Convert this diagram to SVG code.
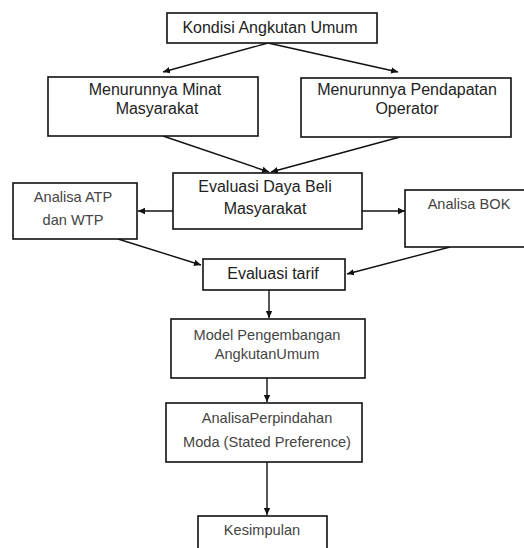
<svg xmlns="http://www.w3.org/2000/svg" width="524" height="548" viewBox="0 0 524 548">
<style>
.box{fill:#fff;stroke:#111;stroke-width:1.6}
.a{font-family:"Liberation Sans",Arial,sans-serif;font-size:16px;fill:#222;text-anchor:middle}
.c{font-family:"Liberation Sans",Arial,sans-serif;font-size:14.6px;fill:#444;text-anchor:middle}
.ln{fill:none;stroke:#111;stroke-width:1.4;marker-end:url(#ah)}
</style>
<defs>
<marker id="ah" markerUnits="userSpaceOnUse" markerWidth="8" markerHeight="8" refX="7" refY="4" orient="auto">
<path d="M0,0.8 L7,4 L0,7.2 z" fill="#111"/>
</marker>
</defs>
<rect width="524" height="548" fill="#fff"/>
<g id="connectors">
<line class="ln" x1="268" y1="43" x2="163" y2="72"/>
<line class="ln" x1="268" y1="43" x2="398" y2="72"/>
<line class="ln" x1="163" y1="136" x2="269" y2="172"/>
<line class="ln" x1="400" y1="137" x2="271" y2="172"/>
<line class="ln" x1="173" y1="211" x2="138" y2="211"/>
<line class="ln" x1="362" y1="211" x2="405" y2="211"/>
<line class="ln" x1="118" y1="239" x2="201" y2="265"/>
<line class="ln" x1="450" y1="247" x2="347" y2="274"/>
<line class="ln" x1="269" y1="290" x2="269" y2="318"/>
<line class="ln" x1="267" y1="378" x2="267" y2="402"/>
<line class="ln" x1="267" y1="462" x2="267" y2="515"/>
</g>
<g id="n1"><rect class="box" x="167" y="13" width="210" height="30"/><text class="a" x="270" y="33">Kondisi Angkutan Umum</text></g>
<g id="n2"><rect class="box" x="48" y="77" width="210" height="59"/><text class="a" x="155" y="95">Menurunnya Minat</text><text class="a" x="157" y="114">Masyarakat</text></g>
<g id="n3"><rect class="box" x="301" y="78" width="210" height="59"/><text class="a" x="407" y="95">Menurunnya Pendapatan</text><text class="a" x="407" y="114">Operator</text></g>
<g id="n4"><rect class="box" x="173" y="173" width="189" height="56"/><text class="a" x="265" y="192">Evaluasi Daya Beli</text><text class="a" x="265" y="214">Masyarakat</text></g>
<g id="n5"><rect class="box" x="13" y="183" width="124" height="56"/><text class="c" x="73" y="202">Analisa ATP</text><text class="c" x="73" y="225">dan WTP</text></g>
<g id="n6"><rect class="box" x="405" y="190" width="125" height="57"/><text class="c" x="469" y="209">Analisa BOK</text></g>
<g id="n7"><rect class="box" x="203" y="259" width="142" height="31"/><text class="a" x="273" y="279">Evaluasi tarif</text></g>
<g id="n8"><rect class="box" x="171" y="319" width="194" height="59"/><text class="c" x="267" y="340">Model Pengembangan</text><text class="c" x="267" y="359">AngkutanUmum</text></g>
<g id="n9"><rect class="box" x="166" y="403" width="196" height="59"/><text class="c" x="267" y="423">AnalisaPerpindahan</text><text class="c" x="267" y="447">Moda (Stated Preference)</text></g>
<g id="n10"><rect class="box" x="198" y="516" width="129" height="40"/><text class="c" x="262" y="535">Kesimpulan</text></g>
</svg>
